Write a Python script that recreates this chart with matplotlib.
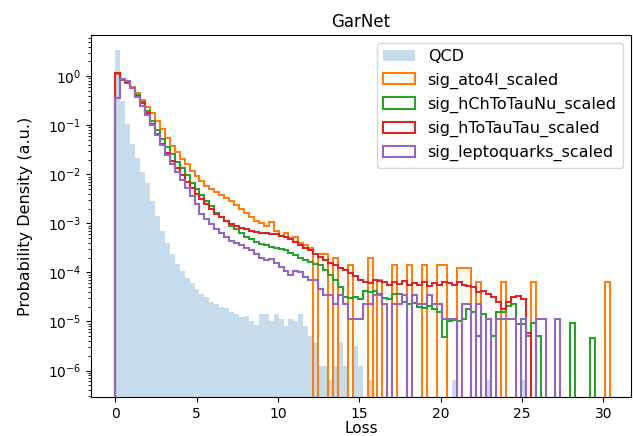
import numpy as np
import matplotlib as mpl
mpl.use('Agg')
import matplotlib.pyplot as plt

# 100 common bins, heights as log10(density); None = empty bin
edges = np.linspace(0, 30.4, 101)

qcd_log = [0.54, -0.5, -0.98, -1.38, -1.67, -1.95, -2.18, -2.55, -2.85, -3.15,
           -3.4, -3.62, -3.82, -3.98, -4.12, -4.22, -4.33, -4.45, -4.5, -4.6,
           -4.65, -4.7, -4.72, -4.8, -4.85, -4.9, -4.88, -5.0, -5.08, -4.85,
           -4.85, -5.0, -4.84, -4.95, -5.1, -4.95, -5.0, -4.84, -5.1, -5.3,
           -5.42, -5.9, -5.9, -6.2, -5.9, -5.42, -5.9, None, -5.5, -5.9,
           None, -6.2, None, None, None, None, None, None, None, None,
           None, None, None, None, None, None, None, None, -6.2, None,
           None, None, None, None, None, -6.2, None, None, None, None,
           None, None, -6.2, None, None, None, None, None, None, None,
           None, None, None, None, None, None, None, None, None, None]

ato4l_log = [0.05, -0.06, -0.12, -0.22, -0.35, -0.48, -0.62, -0.75, -0.92, -1.08,
             -1.25, -1.42, -1.55, -1.68, -1.8, -1.93, -2.03, -2.14, -2.24, -2.3,
             -2.36, -2.42, -2.48, -2.54, -2.62, -2.7, -2.78, -2.87, -2.95, -3.0,
             -3.05, -2.98, -3.15, -3.25, -3.2, -3.3, -3.28, -3.4, -3.45, -3.5,
             None, -3.62, -3.62, None, -3.7, None, None, -3.85, None, None,
             None, -3.7, None, -4.15, None, None, -3.85, None, None, -3.85,
             None, None, -3.85, None, None, -3.85, -3.85, None, None, -3.9,
             -3.9, -3.9, None, -4.2, None, None, None, None, -4.2, None,
             None, None, None, None, -4.2, None, None, None, None, None,
             None, None, None, None, None, None, None, None, None, -4.2]

hch_log = [-0.45, -0.08, -0.14, -0.25, -0.38, -0.52, -0.7, -0.91, -1.1, -1.28,
           -1.45, -1.59, -1.74, -1.88, -2.02, -2.17, -2.3, -2.42, -2.54, -2.65,
           -2.78, -2.88, -2.95, -3.05, -3.12, -3.2, -3.27, -3.32, -3.38, -3.42,
           -3.45, -3.48, -3.5, -3.52, -3.55, -3.6, -3.65, -3.7, -3.75, -3.78,
           -3.82, -3.85, -3.95, -4.05, -4.15, -4.3, -4.5, -4.53, -4.5, -4.55,
           -4.37, -4.4, -4.37, -4.45, -4.53, -4.55, -4.45, -4.45, -4.6, -4.65,
           -4.62, -4.7, -4.72, -4.68, -4.75, -4.8, -5.32, -5.0, -4.98, -5.0,
           -4.95, -4.75, -4.8, -5.3, -4.85, -4.95, -5.3, -4.8, -4.8, -4.68,
           -4.65, -5.05, -5.05, -5.3, -5.04, -5.3, None, None, None, None,
           None, None, -5.04, None, None, None, -5.33, None, None, None]

htt_log = [0.07, -0.06, -0.12, -0.25, -0.4, -0.55, -0.75, -0.98, -1.18, -1.38,
           -1.56, -1.73, -1.88, -2.02, -2.16, -2.28, -2.4, -2.5, -2.6, -2.7,
           -2.8, -2.88, -2.95, -3.02, -3.06, -3.1, -3.12, -3.15, -3.18, -3.2,
           -3.2, -3.22, -3.22, -3.25, -3.28, -3.32, -3.38, -3.45, -3.5, -3.55,
           -3.62, -3.68, -3.75, -3.8, -3.85, -3.9, -3.95, -4.02, -4.08, -4.15,
           -4.2, -4.22, -4.15, -4.18, -4.2, -4.25, -4.2, -4.23, -4.18, -4.25,
           -4.22, -4.25, -4.2, -4.28, -4.22, -4.25, -4.2, -4.22, -4.25, -4.2,
           -4.25, -4.28, -4.3, -4.4, -4.37, -4.45, -4.5, -4.6, -4.74, -4.6,
           -4.5, -4.48, -4.55, -5.24, None, None, None, None, None, None,
           None, None, None, None, None, None, None, None, None, None]

lq_log = [-0.45, -0.05, -0.1, -0.25, -0.42, -0.6, -0.8, -1.0, -1.2, -1.4,
          -1.6, -1.79, -1.95, -2.12, -2.28, -2.45, -2.6, -2.8, -2.92, -3.02,
          -3.12, -3.2, -3.28, -3.35, -3.41, -3.45, -3.5, -3.55, -3.62, -3.7,
          -3.75, -3.72, -3.8, -3.88, -3.98, -4.05, -3.98, -4.0, -4.1, -4.16,
          -4.16, -4.34, -4.46, -4.46, -4.64, -4.46, -4.64, -4.94, -4.94, -4.94,
          -4.64, -4.64, -4.46, -4.46, -4.64, None, -4.64, -4.64, -4.46, None,
          -4.46, -4.64, -4.64, -4.46, -4.64, -4.64, -4.94, -4.94, -4.94, None,
          -4.64, -4.64, None, -4.64, None, -4.94, None, -4.94, -4.94, -4.94,
          -4.94, None, -4.94, None, None, -4.94, -4.94, None, None, -4.94,
          None, None, None, None, None, None, None, None, None, None]

labels = ['QCD', 'sig_ato4l_scaled', 'sig_hChToTauNu_scaled',
          'sig_hToTauTau_scaled', 'sig_leptoquarks_scaled']


def to_density(logs):
    return np.array([0.0 if v is None else 10 ** v for v in logs])


centers = 0.5 * (edges[:-1] + edges[1:])

fig = plt.figure(figsize=(6.33, 4.36), dpi=100)
ax = fig.add_axes([91 / 633, 39 / 436, 540 / 633, 362 / 436])

ax.hist(centers, bins=edges, weights=to_density(qcd_log), histtype='stepfilled',
        alpha=0.25, color='C0', label=labels[0], log=True)
sigs = [ato4l_log, hch_log, htt_log, lq_log]
for i, s in enumerate(sigs):
    ax.hist(centers, bins=edges, weights=to_density(s), histtype='step',
            color='C%d' % (i + 1), lw=1.5, label=labels[i + 1], log=True)

ax.set_yscale('log')
ax.set_ylim(10 ** -6.54, 10 ** 0.84)
ax.set_xlim(-1.5, 31.7)
ax.set_title('GarNet')
ax.set_xlabel('Loss', fontsize=11, labelpad=0.5)
ax.set_ylabel('Probability Density (a.u.)', fontsize=11.5, labelpad=11)
ax.legend(loc='upper right', fontsize=11.5)

plt.savefig('out.png', dpi=100)
